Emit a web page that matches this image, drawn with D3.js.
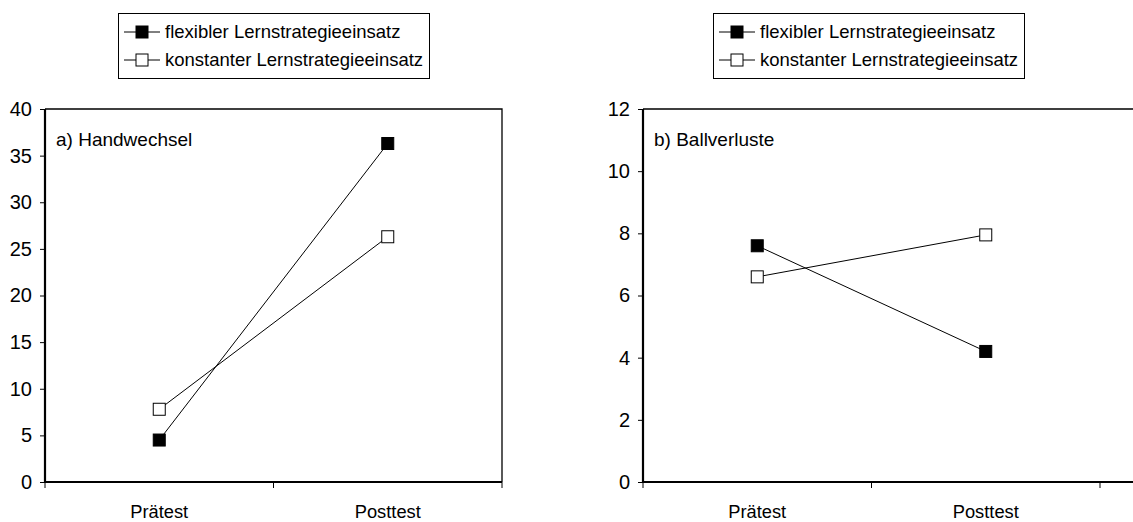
<!DOCTYPE html>
<html>
<head>
<meta charset="utf-8">
<script src="https://cdn.jsdelivr.net/npm/d3@7"></script>
<style>
  body { margin: 0; background: #fff; }
  svg { display: block; font-family: Arial, "Liberation Sans", sans-serif; }
</style>
</head>
<body>
<svg id="chart" width="1133" height="522"></svg>
<script>
// data
const categories = ["Prätest", "Posttest"];
const seriesNames = ["flexibler Lernstrategieeinsatz", "konstanter Lernstrategieeinsatz"];
const seriesFill = ["#000", "#fff"];

const handwechselFlexibel = [4.5, 36.3];
const handwechselKonstant = [7.8, 26.3];
const handwechselTicks = [0, 5, 10, 15, 20, 25, 30, 35, 40];

const ballverlusteFlexibel = [7.6, 4.2];
const ballverlusteKonstant = [6.6, 7.95];
const ballverlusteTicks = [0, 2, 4, 6, 8, 10, 12];

const svg = d3.select("#chart");
const plotTop = 109, plotBottom = 482;

// one panel per measure
const panels = [
  { title: "a) Handwechsel", series: [handwechselFlexibel, handwechselKonstant], ticks: handwechselTicks,
    left: 45, right: 502, frameRight: 502, legendX: 118 },
  { title: "b) Ballverluste", series: [ballverlusteFlexibel, ballverlusteKonstant], ticks: ballverlusteTicks,
    left: 643, right: 1100, frameRight: 1145, legendX: 713 }
];

panels.forEach(function (p) {
  const g = svg.append("g");

  const x = d3.scaleBand().domain(categories).range([p.left, p.right]);
  const y = d3.scaleLinear().domain([0, d3.max(p.ticks)]).range([plotBottom, plotTop]);
  const cx = function (c) { return x(c) + x.bandwidth() / 2; };

  // plot frame (top + right)
  g.append("path")
    .attr("d", "M" + p.left + "," + plotTop + "H" + p.frameRight + "V" + plotBottom)
    .attr("fill", "none")
    .attr("stroke", "#000")
    .attr("stroke-width", 1.3);

  // y axis
  const yAxis = g.append("g")
    .attr("transform", "translate(" + p.left + ",0)")
    .call(d3.axisLeft(y).tickValues(p.ticks).tickSize(5).tickPadding(8).tickFormat(d3.format("d")));
  yAxis.select(".domain").attr("stroke-width", 2.2).attr("d", "M0," + plotTop + "V" + plotBottom);
  yAxis.selectAll(".tick line").attr("stroke-width", 1);
  yAxis.selectAll(".tick text")
    .attr("font-size", 20)
    .attr("font-family", "Arial, 'Liberation Sans', sans-serif")
    .attr("fill", "#000");

  // x axis: ticks at category borders, labels centred
  g.append("line")
    .attr("x1", p.left).attr("x2", p.frameRight)
    .attr("y1", y(0)).attr("y2", y(0))
    .attr("stroke", "#000").attr("stroke-width", 2.2);
  const borders = categories.map(function (c) { return x(c); }).concat([p.right]);
  g.selectAll(".xtick")
    .data(borders)
    .enter()
    .append("line")
    .attr("x1", function (d) { return d; })
    .attr("x2", function (d) { return d; })
    .attr("y1", y(0))
    .attr("y2", y(0) + 6)
    .attr("stroke", "#000");
  g.selectAll(".xlabel")
    .data(categories)
    .enter()
    .append("text")
    .attr("x", cx)
    .attr("y", 518)
    .attr("text-anchor", "middle")
    .attr("font-size", 18.3)
    .text(function (d) { return d; });

  // panel title
  g.append("text")
    .attr("x", p.left + 11)
    .attr("y", 146)
    .attr("font-size", 19)
    .text(p.title);

  // lines + markers
  const line = d3.line()
    .x(function (d, i) { return cx(categories[i]); })
    .y(function (d) { return y(d); });

  p.series.forEach(function (values) {
    g.append("path")
      .datum(values)
      .attr("d", line)
      .attr("fill", "none")
      .attr("stroke", "#000")
      .attr("stroke-width", 1);
  });
  p.series.forEach(function (values, si) {
    g.selectAll(".m" + si)
      .data(values)
      .enter()
      .append("rect")
      .attr("x", function (d, i) { return cx(categories[i]) - 6; })
      .attr("y", function (d) { return y(d) - 6; })
      .attr("width", 12)
      .attr("height", 12)
      .attr("fill", seriesFill[si])
      .attr("stroke", "#000")
      .attr("stroke-width", 1);
  });

  // legend
  const lg = g.append("g").attr("transform", "translate(" + p.legendX + ",13)");
  lg.append("rect")
    .attr("x", 0.5).attr("y", 0.5)
    .attr("width", 311).attr("height", 65)
    .attr("fill", "#fff")
    .attr("stroke", "#000");
  seriesNames.forEach(function (name, si) {
    const cyL = 19 + si * 28;
    lg.append("line")
      .attr("x1", 6).attr("x2", 42)
      .attr("y1", cyL).attr("y2", cyL)
      .attr("stroke", "#000");
    lg.append("rect")
      .attr("x", 18).attr("y", cyL - 6)
      .attr("width", 12).attr("height", 12)
      .attr("fill", seriesFill[si])
      .attr("stroke", "#000");
    lg.append("text")
      .attr("x", 47)
      .attr("y", cyL + 6)
      .attr("font-size", 18.5)
      .text(name);
  });
});
</script>
</body>
</html>
